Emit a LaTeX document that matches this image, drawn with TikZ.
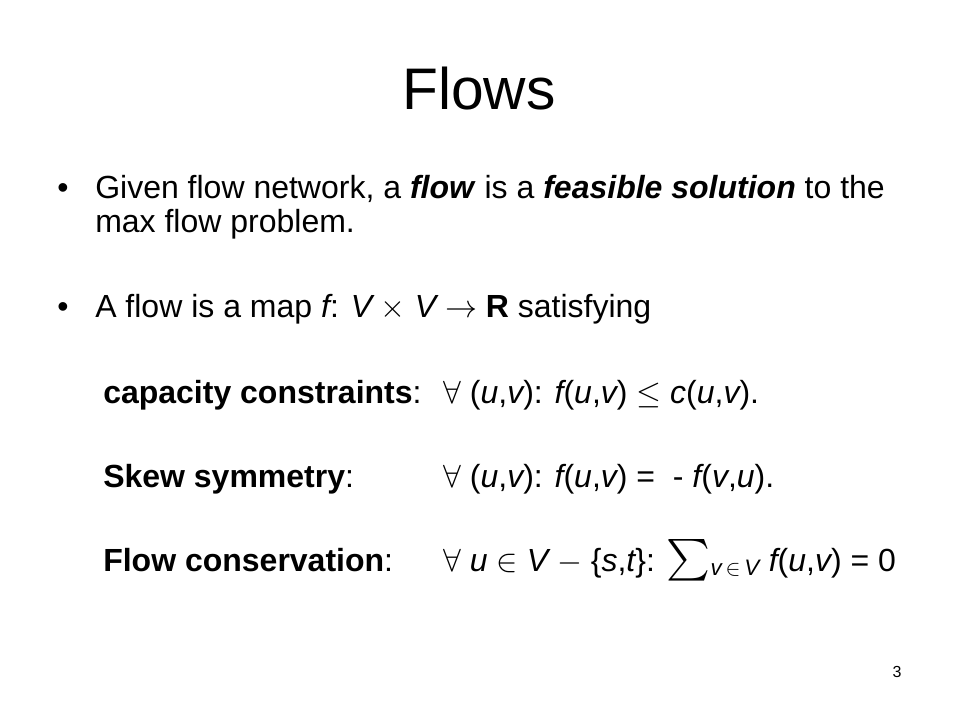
\RequirePackage{fix-cm}
\documentclass[tikz,border=0pt]{standalone}
\usepackage{amsmath, amssymb}
\usepackage{fontspec}
\setmainfont{Liberation Sans}
\usetikzlibrary{positioning}

\newcommand{\vi}[1]{{\itshape #1}}

\begin{document}
\begin{tikzpicture}[x=0.75pt, y=-0.75pt,
    titletext/.style={font=\fontsize{44}{50}\selectfont, anchor=base, inner sep=0pt},
    bodytext/.style={font=\fontsize{24}{29}\selectfont, anchor=base west, inner sep=0pt},
    pagetext/.style={font=\fontsize{12}{14}\selectfont, anchor=base, inner sep=0pt}]
    \useasboundingbox (0,0) rectangle (960,720);

    % Title
    \node[titletext] (title) at (479,110) {Flows};

    % Bullets
    \node[bodytext] (dota) at (57,199) {\textbullet};
    \node[bodytext] (linea) at (95,199) {Given flow network, a \textbf{\vi{flow}} is a \textbf{\vi{feasible solution}} to the};
    \node[bodytext] (lineb) at (95,233) {max flow problem.};
    \node[bodytext] (dotb) at (57,317) {\textbullet};
    \node[bodytext] (linec) at (95,317) {A flow is a map \vi{f}: \vi{V} $\times$ \vi{V} $\rightarrow$ \textbf{R} satisfying};

    % Properties: name / baseline / label / equation
    \foreach \n/\y/\lbl/\eqn in {
        cap/403/{\textbf{capacity constraints}:}/{$\forall$ (\vi{u},\vi{v}): \vi{f}(\vi{u},\vi{v}) $\leq$ \vi{c}(\vi{u},\vi{v}).},
        skew/487/{\textbf{Skew symmetry}:}/{$\forall$ (\vi{u},\vi{v}): \vi{f}(\vi{u},\vi{v}) =\ \ - \vi{f}(\vi{v},\vi{u}).},
        cons/571/{\textbf{Flow conservation}:}/{$\forall$ \vi{u} $\in$ \vi{V} $-$ \{\vi{s},\vi{t}\}: \scalebox{1.3}{$\sum$}${}_{\text{\vi{v}}\,\in\,\text{\vi{V}}}$ \vi{f}(\vi{u},\vi{v}) = 0}} {
      \node[bodytext] (\n-name) at (103,\y) {\lbl};
      \node[bodytext] (\n-eqn) at (443,\y) {\eqn};
    }

    % Page number
    \node[pagetext] (page) at (897,677) {3};
\end{tikzpicture}
\end{document}
